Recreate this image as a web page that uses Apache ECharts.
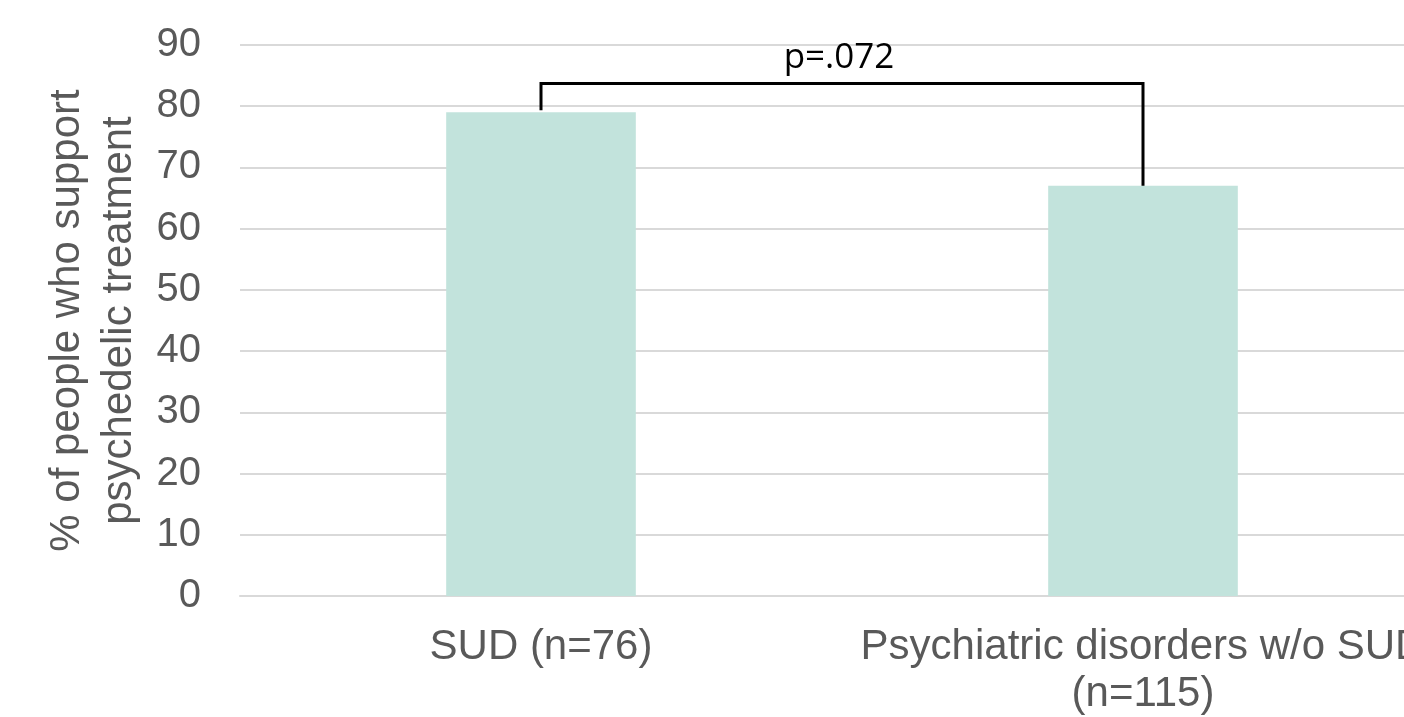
<!DOCTYPE html>
<html>
<head>
<meta charset="utf-8">
<script src="https://cdn.jsdelivr.net/npm/echarts@6/dist/echarts.min.js"></script>
<style>
html,body{margin:0;padding:0;overflow:hidden;background:#fff;width:1404px;height:717px;}
#chart{width:1444px;height:717px;}
</style>
</head>
<body>
<div id="chart"></div>
<script>
const categories = ['SUD (n=76)', 'Psychiatric disorders w/o SUD\n(n=115)'];
const values = [79, 67];
const yTicks = [0, 10, 20, 30, 40, 50, 60, 70, 80, 90];
const bracketFrom = 0;
const bracketTo = 1;
const bracketTop = 83.7;
const bracketLabel = 'p=.072';
const yTitle = '% of people who support\npsychedelic treatment';

const chart = echarts.init(document.getElementById('chart'), null, {renderer: 'canvas'});
chart.setOption({
  animation: false,
  grid: {left: 240, right: 0, top: 45, bottom: 121, containLabel: false, outerBoundsMode: 'none'},
  xAxis: {
    type: 'category',
    data: categories,
    axisLine: {show: true, lineStyle: {color: '#d9d9d9', width: 2}},
    axisTick: {show: false},
    axisLabel: {
      interval: 0, color: '#595959', fontFamily: 'Liberation Sans', fontSize: 42,
      margin: 28, lineHeight: 47
    }
  },
  yAxis: {
    type: 'value', min: yTicks[0], max: yTicks[yTicks.length - 1], interval: 10,
    name: yTitle, nameLocation: 'middle', nameGap: 87, nameRotate: 90,
    nameTextStyle: {color: '#595959', fontFamily: 'Liberation Sans', fontSize: 42, lineHeight: 52},
    axisLine: {show: false}, axisTick: {show: false},
    axisLabel: {color: '#595959', fontFamily: 'Liberation Sans', fontSize: 40, margin: 39},
    splitLine: {lineStyle: {color: '#d9d9d9', width: 2}}
  },
  series: [
    {
      type: 'bar', data: values, barWidth: '31.5%',
      itemStyle: {color: '#c2e3dc'}
    },
    {
      type: 'custom',
      data: [[bracketFrom, bracketTo, bracketTop]],
      renderItem: function (params, api) {
        const a = api.coord([api.value(0), values[bracketFrom]]);
        const b = api.coord([api.value(1), values[bracketTo]]);
        const ta = api.coord([api.value(0), api.value(2)]);
        const tb = api.coord([api.value(1), api.value(2)]);
        return {
          type: 'group',
          children: [
            {
              type: 'polyline',
              shape: {points: [[a[0], a[1] - 2], [ta[0], ta[1]], [tb[0], tb[1]], [b[0], b[1]]]},
              style: {stroke: '#000', lineWidth: 3, fill: null}
            },
            {
              type: 'text',
              style: {
                text: bracketLabel, x: (ta[0] + tb[0]) / 2 - 3, y: ta[1] - 8,
                align: 'center', verticalAlign: 'bottom',
                fill: '#000', font: '35px "Open Sans"'
              }
            }
          ]
        };
      },
      z: 5
    }
  ]
});
</script>
</body>
</html>
